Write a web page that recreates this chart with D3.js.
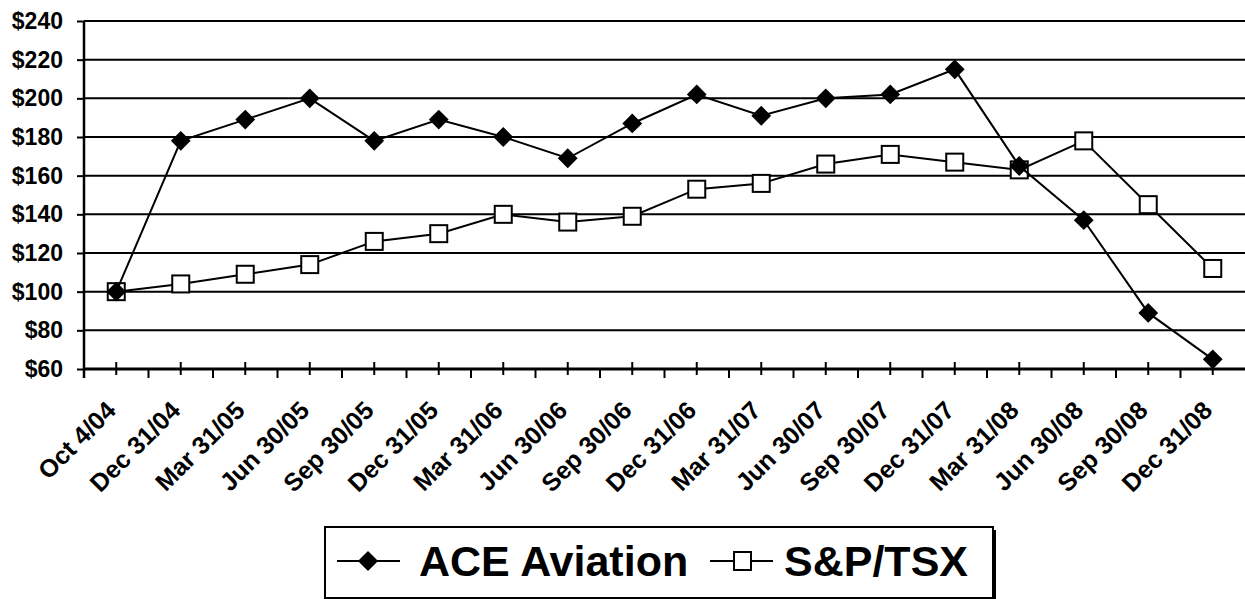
<!DOCTYPE html>
<html>
<head>
<meta charset="utf-8">
<script src="https://cdn.jsdelivr.net/npm/d3@7"></script>
<style>
    body { margin: 0; background: #fff; }
    svg { display: block; font-family: "Liberation Sans", Arial, sans-serif; font-weight: bold; }
</style>
</head>
<body>
<svg id="chart" width="1245" height="599"></svg>
<script>
var quarters = ["Oct 4/04", "Dec 31/04", "Mar 31/05", "Jun 30/05", "Sep 30/05", "Dec 31/05",
    "Mar 31/06", "Jun 30/06", "Sep 30/06", "Dec 31/06", "Mar 31/07", "Jun 30/07",
    "Sep 30/07", "Dec 31/07", "Mar 31/08", "Jun 30/08", "Sep 30/08", "Dec 31/08"];
var aceAviation = [100, 178, 189, 200, 178, 189, 180, 169, 187, 202, 191, 200, 202, 215, 165, 137, 89, 65];
var spTsx = [100, 104, 109, 114, 126, 130, 140, 136, 139, 153, 156, 166, 171, 167, 163, 178, 145, 112];
var yTicks = [60, 80, 100, 120, 140, 160, 180, 200, 220, 240];
var seriesNames = ["ACE Aviation", "S&P/TSX"];

var setting = {
    left: 84,
    right: 1245,
    top: 21,
    bottom: 369
};

var svg = d3.select("#chart");

var x = d3.scaleBand()
    .domain(quarters)
    .range([setting.left, setting.right]);

var y = d3.scaleLinear()
    .domain([60, 240])
    .range([setting.bottom, setting.top]);

function cx(d, i) {
    return x(quarters[i]) + x.bandwidth() / 2;
}

/***
 * Horizontal gridlines and the value axis
 */
function drawGrid() {
    svg.append("g")
        .selectAll("line")
        .data(yTicks.filter(function (v) { return v > 60; }))
        .enter()
        .append("line")
        .attr("x1", setting.left)
        .attr("x2", setting.right)
        .attr("y1", function (d) { return y(d); })
        .attr("y2", function (d) { return y(d); })
        .attr("stroke", "#000")
        .attr("stroke-width", 2);

    var yAxis = svg.append("g")
        .attr("transform", "translate(" + setting.left + ",0)")
        .call(d3.axisLeft(y).tickValues(yTicks).tickSize(7).tickPadding(14)
            .tickFormat(function (d) { return "$" + d; }));
    yAxis.select(".domain").remove();
    yAxis.selectAll(".tick line").attr("stroke", "#000").attr("stroke-width", 2);
    yAxis.selectAll("text")
        .attr("fill", "#000")
        .style("font-size", "23px")
        .style("font-weight", "bold");

    // vertical axis line, reaching just past the category axis
    svg.append("line")
        .attr("x1", setting.left).attr("x2", setting.left)
        .attr("y1", setting.top).attr("y2", setting.bottom + 9)
        .attr("stroke", "#000")
        .attr("stroke-width", 2.5);
}

/***
 * Category axis: crossing ticks at each quarter, outside ticks between them
 */
function drawCategoryAxis() {
    var g = svg.append("g");

    g.append("line")
        .attr("x1", setting.left)
        .attr("x2", setting.right)
        .attr("y1", setting.bottom)
        .attr("y2", setting.bottom)
        .attr("stroke", "#000")
        .attr("stroke-width", 3);

    g.selectAll("line.major")
        .data(quarters)
        .enter()
        .append("line")
        .attr("class", "major")
        .attr("x1", function (d) { return x(d) + x.bandwidth() / 2; })
        .attr("x2", function (d) { return x(d) + x.bandwidth() / 2; })
        .attr("y1", setting.bottom - 7)
        .attr("y2", setting.bottom + 6)
        .attr("stroke", "#000")
        .attr("stroke-width", 2);

    g.selectAll("line.minor")
        .data(quarters.slice(1))
        .enter()
        .append("line")
        .attr("class", "minor")
        .attr("x1", function (d) { return x(d); })
        .attr("x2", function (d) { return x(d); })
        .attr("y1", setting.bottom)
        .attr("y2", setting.bottom + 9)
        .attr("stroke", "#000")
        .attr("stroke-width", 2);

    g.selectAll("text")
        .data(quarters)
        .enter()
        .append("text")
        .attr("transform", function (d) {
            return "translate(" + (x(d) + x.bandwidth() / 2 + 1) + "," + (setting.bottom + 43) + ") rotate(-45)";
        })
        .attr("text-anchor", "end")
        .style("font-size", "25px")
        .text(function (d) { return d; });
}

function diamond(sel, size) {
    return sel.attr("d", d3.symbol().type(d3.symbolDiamond2).size(size));
}

function drawSeries() {
    var line = d3.line()
        .x(function (d, i) { return cx(d, i); })
        .y(function (d) { return y(d); });

    // S&P/TSX underneath, ACE Aviation drawn on top
    svg.append("path")
        .datum(spTsx)
        .attr("d", line)
        .attr("fill", "none")
        .attr("stroke", "#000")
        .attr("stroke-width", 2);

    svg.append("g")
        .selectAll("rect")
        .data(spTsx)
        .enter()
        .append("rect")
        .attr("x", function (d, i) { return cx(d, i) - 8.5; })
        .attr("y", function (d) { return y(d) - 8.5; })
        .attr("width", 17)
        .attr("height", 17)
        .attr("fill", "#fff")
        .attr("stroke", "#000")
        .attr("stroke-width", 2);

    svg.append("path")
        .datum(aceAviation)
        .attr("d", line)
        .attr("fill", "none")
        .attr("stroke", "#000")
        .attr("stroke-width", 2);

    svg.append("g")
        .selectAll("path")
        .data(aceAviation)
        .enter()
        .append("path")
        .attr("transform", function (d, i) { return "translate(" + cx(d, i) + "," + y(d) + ")"; })
        .call(diamond, 250)
        .attr("fill", "#000");
}

function drawLegend() {
    var g = svg.append("g");

    // shadow then frame
    g.append("rect")
        .attr("x", 328).attr("y", 530)
        .attr("width", 668).attr("height", 72)
        .attr("fill", "#000");
    g.append("rect")
        .attr("x", 325).attr("y", 527)
        .attr("width", 668).attr("height", 71)
        .attr("fill", "#fff")
        .attr("stroke", "#000")
        .attr("stroke-width", 2);

    var cy = 561;

    g.append("line")
        .attr("x1", 337).attr("x2", 400)
        .attr("y1", cy).attr("y2", cy)
        .attr("stroke", "#000").attr("stroke-width", 2);
    g.append("path")
        .attr("transform", "translate(368," + cy + ")")
        .call(diamond, 260)
        .attr("fill", "#000");
    g.append("text")
        .attr("x", 419).attr("y", 576)
        .style("font-size", "43px")
        .text(seriesNames[0]);

    g.append("line")
        .attr("x1", 710).attr("x2", 773)
        .attr("y1", cy).attr("y2", cy)
        .attr("stroke", "#000").attr("stroke-width", 2);
    g.append("rect")
        .attr("x", 734).attr("y", cy - 9)
        .attr("width", 17).attr("height", 18)
        .attr("fill", "#fff")
        .attr("stroke", "#000").attr("stroke-width", 2);
    g.append("text")
        .attr("x", 784).attr("y", 576)
        .style("font-size", "43px")
        .text(seriesNames[1]);
}

drawGrid();
drawSeries();
drawCategoryAxis();
drawLegend();
</script>
</body>
</html>
